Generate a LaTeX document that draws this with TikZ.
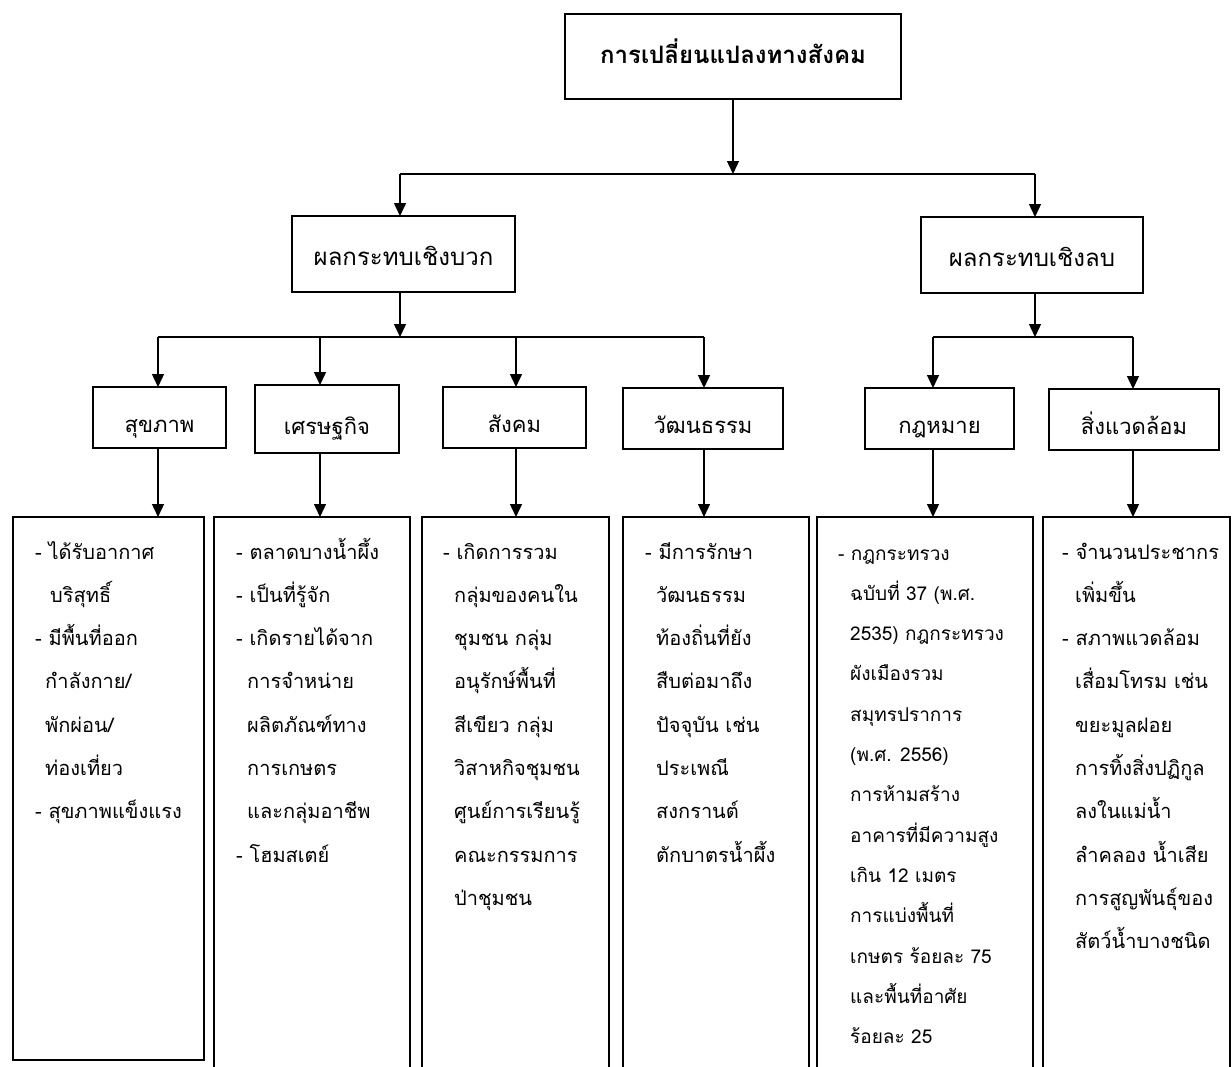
\documentclass[tikz,border=0pt]{standalone}
\usepackage{fontspec}
\setmainfont[Script=Thai]{Loma}
\usetikzlibrary{arrows.meta}
\tikzset{
  box/.style={draw, line width=1.4pt, inner sep=0pt, outer sep=0pt},
  arr/.style={line width=1.4pt, -{Triangle[length=13pt,width=12pt]}},
  bar/.style={line width=1.4pt},
  ln/.style={anchor=base west, inner sep=0pt, font=\fontsize{20}{24}\selectfont},
  lnb/.style={anchor=base west, inner sep=0pt, font=\fontsize{19}{23}\selectfont},
  lbl/.style={font=\fontsize{24}{28}\selectfont, text height=26pt, text depth=2.6pt},
  lbs/.style={font=\fontsize{22}{26}\selectfont, text height=32pt, text depth=1.7pt},
}
\begin{document}
\begin{tikzpicture}[x=1pt,y=-1pt]
\useasboundingbox (0,0) rectangle (1232,1066);
\clip (0,0) rectangle (1232,1066);
\fill[white] (0,0) rectangle (1232,1066);

% top
\node[box, minimum width=336pt, minimum height=85pt, font=\bfseries\fontsize{24}{28}\selectfont, text height=18pt, text depth=3.6pt] (T) at (733,56.5) {การเปลี่ยนแปลงทางสังคม};
\node[box, lbl, minimum width=223pt, minimum height=76pt] (P) at (403.5,254) {ผลกระทบเชิงบวก};
\node[box, lbl, minimum width=222pt, minimum height=76pt] (N) at (1032,255) {ผลกระทบเชิงลบ};

\coordinate (j0) at (733,174);
\coordinate (jP) at (400,174);
\coordinate (jN) at (1035,174);
\draw[arr] (T.south) -- (j0);
\draw[bar] (jP) -- (jN);
\draw[arr] (jP) -- (jP |- P.north);
\draw[arr] (jN) -- (jN |- N.north);

% level 3
\node[box, lbs, minimum width=133pt, minimum height=61pt] (S1) at (159.5,417.5) {สุขภาพ};
\node[box, lbs, minimum width=144pt, minimum height=68pt] (S2) at (327,419) {เศรษฐกิจ};
\node[box, lbs, minimum width=143pt, minimum height=61pt] (S3) at (514.5,417.5) {สังคม};
\node[box, lbs, minimum width=160pt, minimum height=61pt] (S4) at (703,418.5) {วัฒนธรรม};
\node[box, lbs, minimum width=149pt, minimum height=61pt] (S5) at (939.5,418.5) {กฎหมาย};
\node[box, lbs, minimum width=170pt, minimum height=61pt] (S6) at (1134,419.5) {สิ่งแวดล้อม};

\coordinate (kP) at (400,337);
\coordinate (kN) at (1035,337);
\coordinate (a1) at (158,337);
\coordinate (a2) at (320,337);
\coordinate (a3) at (516,337);
\coordinate (a4) at (704,337);
\coordinate (a5) at (933,337);
\coordinate (a6) at (1133,337);
\draw[arr] (kP |- P.south) -- (kP);
\draw[arr] (kN |- N.south) -- (kN);
\draw[bar] (a1) -- (a4);
\draw[bar] (a5) -- (a6);
\foreach \i in {1,...,6} {
  \draw[arr] (a\i) -- (a\i |- S\i.north);
}

% content boxes
\node[box, anchor=north west, minimum width=191pt, minimum height=543pt] (C1) at (13,517) {};
\node[box, anchor=north west, minimum width=196pt, minimum height=600pt] (C2) at (214,517) {};
\node[box, anchor=north west, minimum width=187pt, minimum height=600pt] (C3) at (422,517) {};
\node[box, anchor=north west, minimum width=186pt, minimum height=600pt] (C4) at (623,517) {};
\node[box, anchor=north west, minimum width=216pt, minimum height=600pt] (C5) at (817,517) {};
\node[box, anchor=north west, minimum width=187pt, minimum height=600pt] (C6) at (1043,517) {};

\foreach \i in {1,...,6} {
  \draw[arr] (a\i |- S\i.south) -- (a\i |- C\i.north);
}

% texts
\foreach \dx/\t [count=\j] in {0/{- ได้รับอากาศ}, 15/{บริสุทธิ์}, 0/{- มีพื้นที่ออก}, 10/{กำลังกาย/}, 10/{พักผ่อน/}, 10/{ท่องเที่ยว}, 0/{- สุขภาพแข็งแรง}}
  \node[ln] (t1-\j) at ({35+\dx},{559+43.3*(\j-1)}) {\t};

\foreach \dx/\t [count=\j] in {0/{- ตลาดบางน้ำผึ้ง}, 0/{- เป็นที่รู้จัก}, 0/{- เกิดรายได้จาก}, 11/{การจำหน่าย}, 11/{ผลิตภัณฑ์ทาง}, 11/{การเกษตร}, 11/{และกลุ่มอาชีพ}, 0/{- โฮมสเตย์}}
  \node[ln] (t2-\j) at ({236+\dx},{559+43.3*(\j-1)}) {\t};

\foreach \dx/\t [count=\j] in {0/{- เกิดการรวม}, 11/{กลุ่มของคนใน}, 11/{ชุมชน กลุ่ม}, 11/{อนุรักษ์พื้นที่}, 11/{สีเขียว กลุ่ม}, 11/{วิสาหกิจชุมชน}, 11/{ศูนย์การเรียนรู้}, 11/{คณะกรรมการ}, 11/{ป่าชุมชน}}
  \node[ln] (t3-\j) at ({443+\dx},{559+43.3*(\j-1)}) {\t};

\foreach \dx/\t [count=\j] in {0/{- มีการรักษา}, 11/{วัฒนธรรม}, 11/{ท้องถิ่นที่ยัง}, 11/{สืบต่อมาถึง}, 11/{ปัจจุบัน เช่น}, 11/{ประเพณี}, 11/{สงกรานต์}, 11/{ตักบาตรน้ำผึ้ง}}
  \node[ln] (t4-\j) at ({645+\dx},{559+43.3*(\j-1)}) {\t};

\foreach \dx/\t [count=\j] in {0/{- กฎกระทรวง}, 12/{ฉบับที่ 37 (พ.ศ.}, 12/{2535) กฎกระทรวง}, 12/{ผังเมืองรวม}, 12/{สมุทรปราการ}, 12/{(พ.ศ. 2556)}, 12/{การห้ามสร้าง}, 12/{อาคารที่มีความสูง}, 12/{เกิน 12 เมตร}, 12/{การแบ่งพื้นที่}, 12/{เกษตร ร้อยละ 75}, 12/{และพื้นที่อาศัย}, 12/{ร้อยละ 25}}
  \node[lnb] (t5-\j) at ({838+\dx},{560+40.3*(\j-1)}) {\t};

\foreach \dx/\t [count=\j] in {0/{- จำนวนประชากร}, 13/{เพิ่มขึ้น}, 0/{- สภาพแวดล้อม}, 13/{เสื่อมโทรม เช่น}, 13/{ขยะมูลฝอย}, 13/{การทิ้งสิ่งปฏิกูล}, 13/{ลงในแม่น้ำ}, 13/{ลำคลอง น้ำเสีย}, 13/{การสูญพันธุ์ของ}, 13/{สัตว์น้ำบางชนิด}}
  \node[ln] (t6-\j) at ({1062+\dx},{559+43.3*(\j-1)}) {\t};
\end{tikzpicture}
\end{document}
